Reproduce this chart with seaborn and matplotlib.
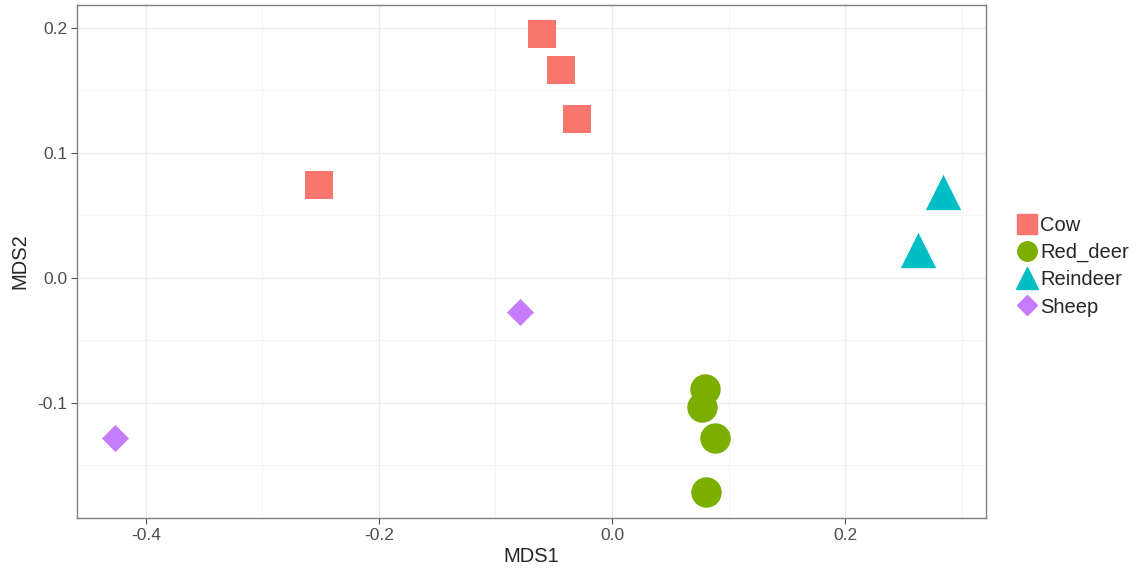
import numpy as np
import pandas as pd
from matplotlib import pyplot as plt
from matplotlib.lines import Line2D
import seaborn as sns

# MDS coordinates
species = ['Cow', 'Red_deer', 'Reindeer', 'Sheep']
cow_x = [-0.060, -0.044, -0.030, -0.251]
cow_y = [0.195, 0.166, 0.127, 0.074]
deer_x = [0.080, 0.077, 0.088, 0.081]
deer_y = [-0.089, -0.103, -0.128, -0.171]
reindeer_x = [0.284, 0.263]
reindeer_y = [0.069, 0.022]
sheep_x = [-0.079, -0.426]
sheep_y = [-0.027, -0.128]

colors = {'Cow': '#F8766D', 'Red_deer': '#7CAE00', 'Reindeer': '#00BFC4', 'Sheep': '#C77CFF'}
markers = {'Cow': 's', 'Red_deer': 'o', 'Reindeer': '^', 'Sheep': 'D'}
sizes = {'Cow': 400, 'Red_deer': 480, 'Reindeer': 650, 'Sheep': 190}

df = pd.concat([
    pd.DataFrame({'MDS1': cow_x, 'MDS2': cow_y, 'species': 'Cow'}),
    pd.DataFrame({'MDS1': deer_x, 'MDS2': deer_y, 'species': 'Red_deer'}),
    pd.DataFrame({'MDS1': reindeer_x, 'MDS2': reindeer_y, 'species': 'Reindeer'}),
    pd.DataFrame({'MDS1': sheep_x, 'MDS2': sheep_y, 'species': 'Sheep'}),
])

sns.set_style('whitegrid')
plt.rcParams['font.family'] = ['Liberation Sans', 'DejaVu Sans']

fig = plt.figure(figsize=(11.4, 5.69), dpi=100)
ax = fig.add_axes([0.0675, 0.0896, 0.7975, 0.9014])

for sp in species:
    sub = df[df['species'] == sp]
    sns.scatterplot(data=sub, x='MDS1', y='MDS2', color=colors[sp], marker=markers[sp],
                    s=sizes[sp], linewidth=0, ax=ax, legend=False, zorder=3)

ax.set_xlim(-0.459, 0.321)
ax.set_ylim(-0.192, 0.218)
ax.set_xticks([-0.4, -0.2, 0.0, 0.2])
ax.set_xticklabels(['-0.4', '-0.2', '0.0', '0.2'])
ax.set_yticks([-0.1, 0.0, 0.1, 0.2])
ax.set_yticklabels(['-0.1', '0.0', '0.1', '0.2'])
ax.set_xticks([-0.3, -0.1, 0.1, 0.3], minor=True)
ax.set_yticks([-0.15, -0.05, 0.05, 0.15], minor=True)
ax.grid(which='major', color='#EBEBEB', linewidth=1.0)
ax.grid(which='minor', color='#F2F2F2', linewidth=0.6)
ax.set_axisbelow(True)
for s in ax.spines.values():
    s.set_color('#7F7F7F')
    s.set_linewidth(1.0)
ax.tick_params(axis='both', which='major', length=4, color='#555555', labelsize=12.5,
               labelcolor='#4D4D4D', pad=3, bottom=True, left=True)
ax.tick_params(axis='both', which='minor', length=0)
ax.set_xlabel('MDS1', fontsize=14.5, labelpad=3)
ax.set_ylabel('MDS2', fontsize=14.5, labelpad=6)

handles = [Line2D([], [], linestyle='', marker=markers[sp], color=colors[sp],
                  markersize={'Cow': 14, 'Red_deer': 14, 'Reindeer': 16, 'Sheep': 10}[sp])
           for sp in species]
fig.legend(handles, species, loc='center left', bbox_to_anchor=(0.878, 0.532),
           frameon=False, fontsize=14.5, handletextpad=0.05, labelspacing=0.4,
           handlelength=1.2, borderpad=0.2)

fig.savefig('out.png', dpi=100)
